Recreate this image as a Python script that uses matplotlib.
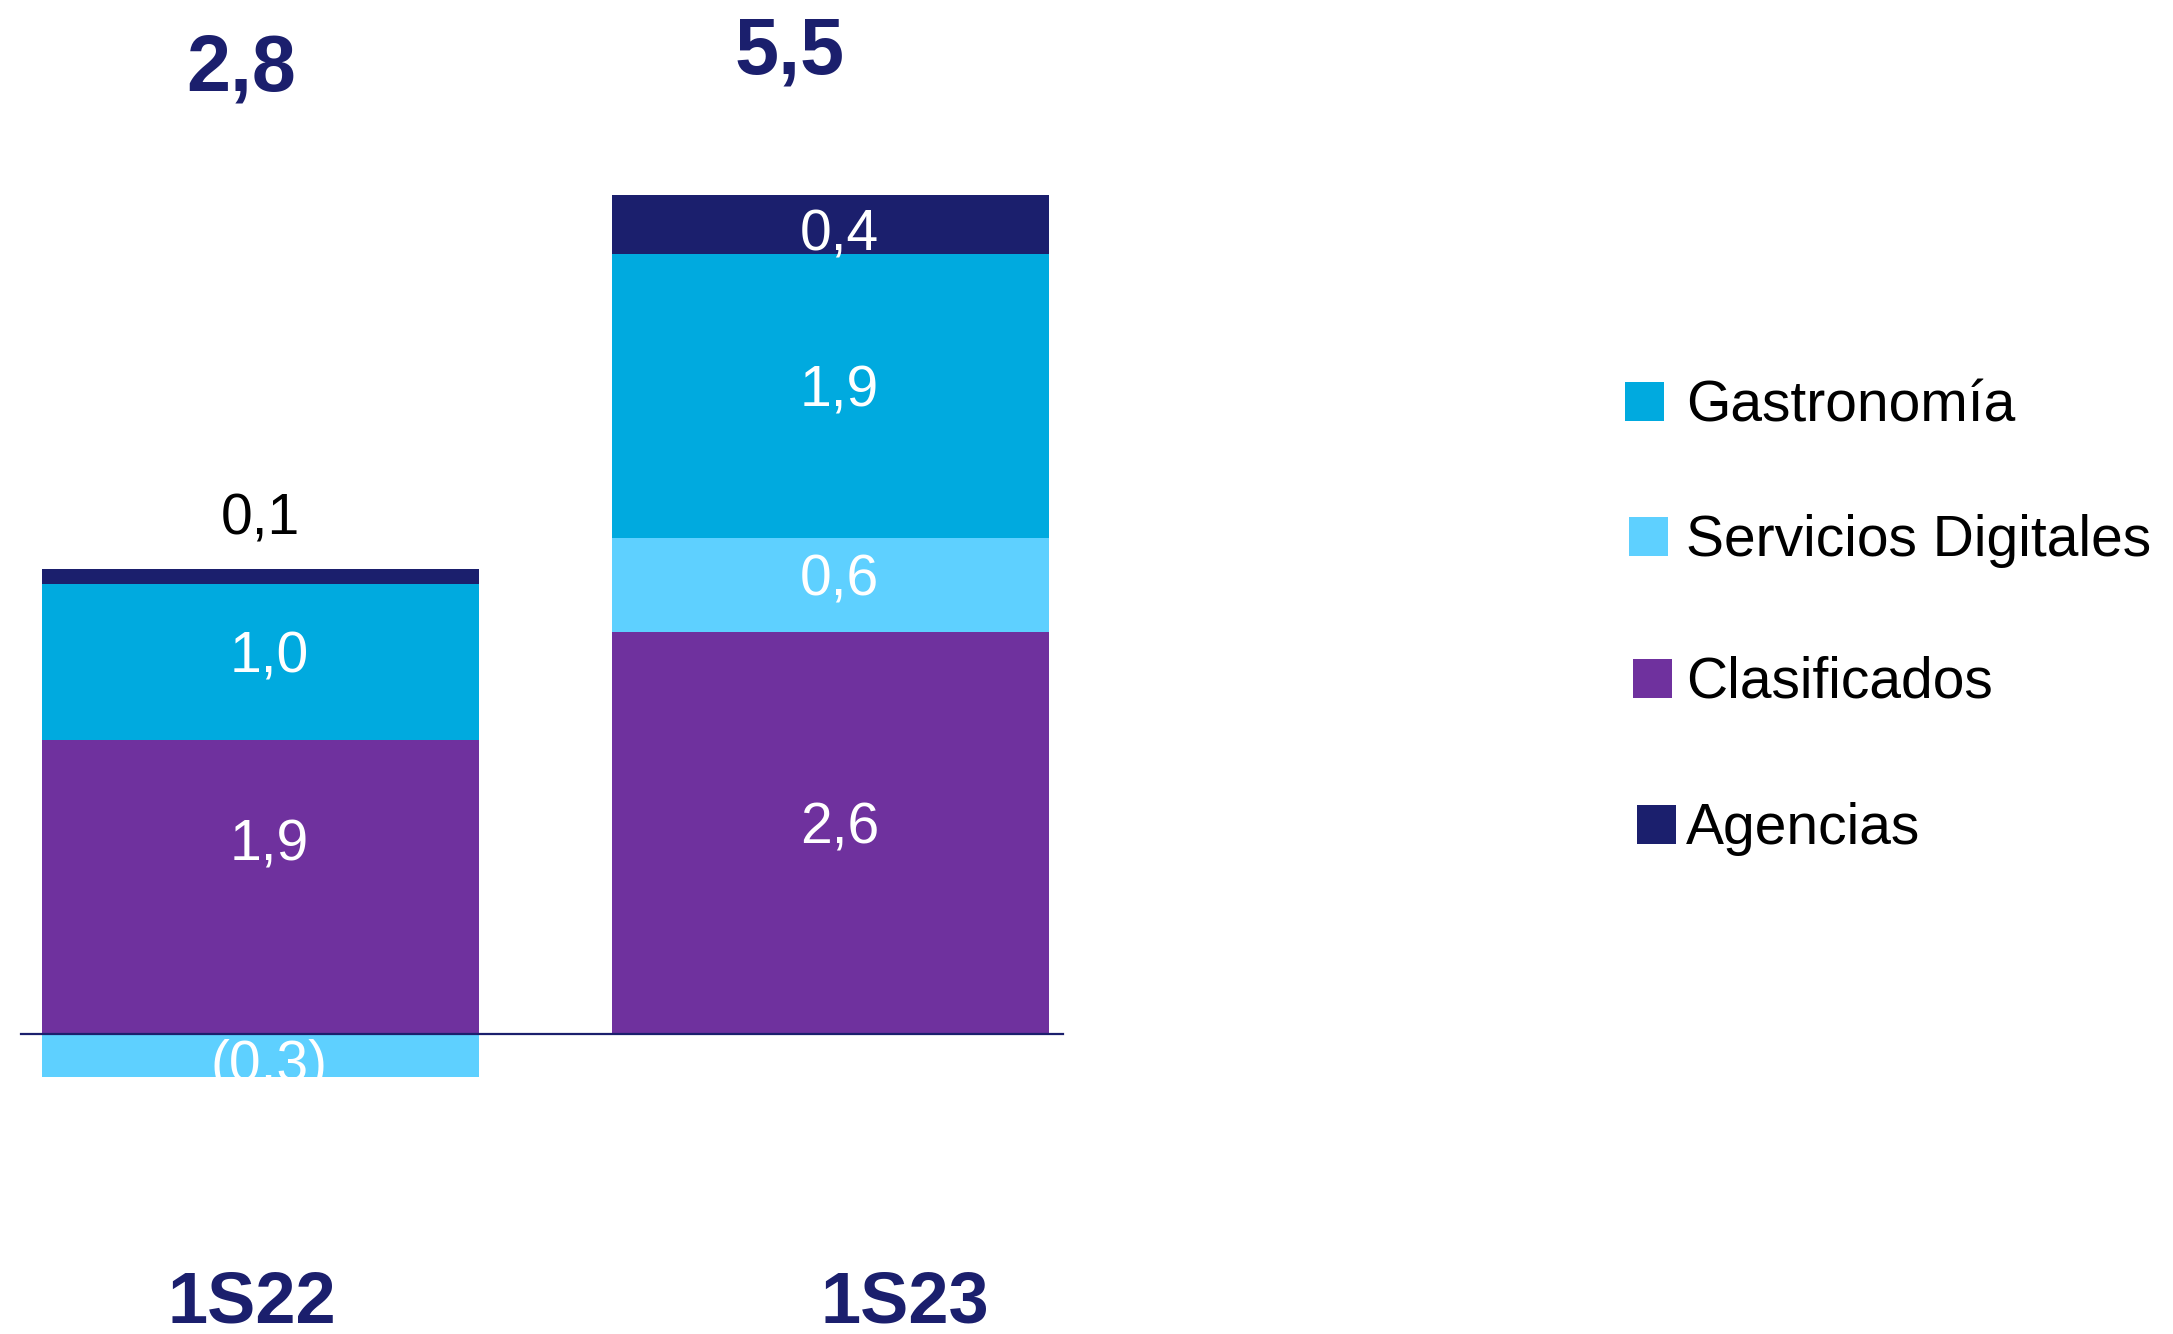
import matplotlib
matplotlib.use("Agg")
import matplotlib.pyplot as plt
from matplotlib.patches import Rectangle


# DATA (segment heights, labels as printed)
periods = ["1S22", "1S23"]
totals = ["2,8", "5,5"]
series = ["Clasificados", "Servicios Digitales", "Gastronomía", "Agencias"]
clasificados = [1.90, 2.60]
servicios = [-0.28, 0.61]
gastronomia = [1.01, 1.84]
agencias = [0.10, 0.38]
clasificados_lbl = ["1,9", "2,6"]
servicios_lbl = ["(0,3)", "0,6"]
gastronomia_lbl = ["1,0", "1,9"]
agencias_lbl = ["0,1", "0,4"]
legend_order = ["Gastronomía", "Servicios Digitales", "Clasificados", "Agencias"]

# STYLE
colors = {
    "Clasificados": "#6F319E",
    "Servicios Digitales": "#5ED0FF",
    "Gastronomía": "#00AADF",
    "Agencias": "#1B1F6D",
}
navy = "#1B1F6D"
font = "Liberation Sans"
bar_w = 0.767


def main():
    plt.rcParams["font.family"] = [font, "DejaVu Sans"]
    fig = plt.figure(figsize=(21.73, 13.34), dpi=100, facecolor="white")
    ax = fig.add_axes([0, 0, 1, 1])
    ax.set_xlim(-0.4575, 3.3547)
    ax.set_ylim(-1.942, 6.693)
    ax.axis("off")

    values = {
        "Clasificados": (clasificados, clasificados_lbl),
        "Servicios Digitales": (servicios, servicios_lbl),
        "Gastronomía": (gastronomia, gastronomia_lbl),
        "Agencias": (agencias, agencias_lbl),
    }
    # small label nudges (y)
    nudge = {
        ("Clasificados", 0): 0.31,
        ("Agencias", 1): -0.03,
    }
    x = list(range(len(periods)))
    pos_base = [0.0] * len(periods)
    neg_base = [0.0] * len(periods)
    for name in series:
        vals, lbls = values[name]
        bottoms = [pos_base[i] if v >= 0 else neg_base[i] for i, v in enumerate(vals)]
        ax.bar(x, vals, width=bar_w, bottom=bottoms, color=colors[name], linewidth=0, zorder=2)
        for i, v in enumerate(vals):
            if abs(v) < 0.2:
                # too thin: label above the bar in black
                ax.text(x[i], bottoms[i] + v + 0.36, lbls[i], ha="center", va="center_baseline",
                        fontsize=41, color="black", zorder=3)
            else:
                ym = bottoms[i] + v / 2 + nudge.get((name, i), 0.07 if v > 0 else -0.03)
                ax.text(x[i] + 0.015, ym, lbls[i], ha="center", va="center_baseline",
                        fontsize=41, color="white", zorder=3)
            if v >= 0:
                pos_base[i] += v
            else:
                neg_base[i] += v

    # zero line
    ax.plot([-0.421, 1.407], [0, 0], color=navy, linewidth=1.6, zorder=4)

    # totals and period labels
    tot_y = [6.11, 6.22]
    tot_dx = [-0.034, -0.072]
    per_dx = [-0.016, 0.13]
    for i in x:
        ax.text(x[i] + tot_dx[i], tot_y[i], totals[i], ha="center", va="baseline",
                fontsize=57, fontweight="bold", color=navy)
        ax.text(x[i] + per_dx[i], -1.87, periods[i], ha="center", va="baseline",
                fontsize=52, fontweight="bold", color=navy)

    # legend
    sq_x = [1625, 1629, 1633, 1637]
    sq_bottom = [421, 556, 698, 844]
    W, H = 2173.0, 1334.0
    for k, name in enumerate(legend_order):
        fig.add_artist(Rectangle((sq_x[k] / W, 1 - sq_bottom[k] / H), 39 / W, 39 / H,
                                 transform=fig.transFigure, facecolor=colors[name],
                                 edgecolor="none"))
        fig.text(1686 / W, 1 - sq_bottom[k] / H, name, ha="left", va="baseline",
                 fontsize=41, color="black")

    fig.savefig("out.png", dpi=100, facecolor="white")


if __name__ == "__main__":
    main()
